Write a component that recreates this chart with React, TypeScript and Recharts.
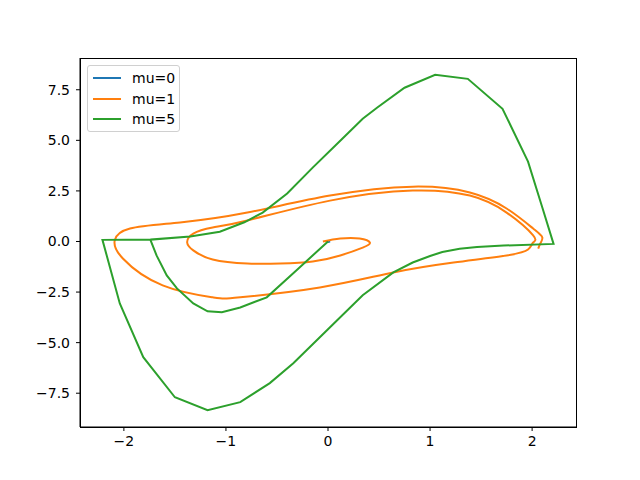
import { LineChart, Line, XAxis, YAxis } from "recharts";

// traces (x, dx/dt)
const mu0 = [
  { x: 0, y: 0.02 },
  { x: 0.02, y: 0 },
  { x: 0, y: -0.02 },
  { x: -0.02, y: 0 },
  { x: 0, y: 0.02 },
];

const mu1 = [
  { x: -0.05, y: 0 },
  { x: 0.12, y: 0.15 },
  { x: 0.31, y: 0.15 },
  { x: 0.41, y: -0.05 },
  { x: 0.34, y: -0.3 },
  { x: 0.12, y: -0.69 },
  { x: -0.15, y: -0.99 },
  { x: -0.47, y: -1.09 },
  { x: -0.79, y: -1.09 },
  { x: -1.13, y: -0.89 },
  { x: -1.32, y: -0.44 },
  { x: -1.38, y: -0.05 },
  { x: -1.32, y: 0.39 },
  { x: -1.13, y: 0.69 },
  { x: -0.79, y: 1.04 },
  { x: 0.02, y: 2.02 },
  { x: 0.83, y: 2.52 },
  { x: 1.39, y: 2.27 },
  { x: 1.75, y: 1.43 },
  { x: 2.01, y: 0.3 },
  { x: 2.01, y: -0.05 },
  { x: 1.96, y: -0.4 },
  { x: 1.75, y: -0.69 },
  { x: 1.23, y: -1.04 },
  { x: 0.64, y: -1.53 },
  { x: -0.08, y: -2.27 },
  { x: -0.86, y: -2.76 },
  { x: -1.13, y: -2.76 },
  { x: -1.62, y: -2.17 },
  { x: -2.01, y: -0.84 },
  { x: -2.09, y: 0.05 },
  { x: -1.94, y: 0.64 },
  { x: -1.45, y: 0.94 },
  { x: -0.79, y: 1.43 },
  { x: 0.02, y: 2.27 },
  { x: 0.83, y: 2.71 },
  { x: 1.39, y: 2.42 },
  { x: 1.75, y: 1.63 },
  { x: 2.01, y: 0.64 },
  { x: 2.1, y: 0.2 },
  { x: 2.08, y: -0.1 },
  { x: 2.06, y: -0.35 },
];

const mu5 = [
  { x: 0, y: 0 },
  { x: -0.3, y: -1.38 },
  { x: -0.6, y: -2.76 },
  { x: -0.86, y: -3.26 },
  { x: -1.04, y: -3.5 },
  { x: -1.18, y: -3.45 },
  { x: -1.32, y: -3.06 },
  { x: -1.48, y: -2.32 },
  { x: -1.58, y: -1.68 },
  { x: -1.68, y: -0.69 },
  { x: -1.74, y: 0.08 },
  { x: -1.35, y: 0.25 },
  { x: -1.06, y: 0.48 },
  { x: -0.82, y: 0.95 },
  { x: -0.64, y: 1.43 },
  { x: -0.4, y: 2.37 },
  { x: -0.15, y: 3.65 },
  { x: 0.12, y: 4.98 },
  { x: 0.34, y: 6.07 },
  { x: 0.48, y: 6.61 },
  { x: 0.75, y: 7.6 },
  { x: 1.05, y: 8.24 },
  { x: 1.37, y: 8.04 },
  { x: 1.71, y: 6.56 },
  { x: 1.96, y: 3.95 },
  { x: 2.1, y: 1.68 },
  { x: 2.21, y: -0.12 },
  { x: 1.72, y: -0.2 },
  { x: 1.46, y: -0.27 },
  { x: 1.29, y: -0.36 },
  { x: 1.12, y: -0.52 },
  { x: 1.0, y: -0.72 },
  { x: 0.83, y: -1.04 },
  { x: 0.64, y: -1.53 },
  { x: 0.34, y: -2.66 },
  { x: 0.02, y: -4.24 },
  { x: -0.34, y: -6.02 },
  { x: -0.57, y: -7.0 },
  { x: -0.86, y: -7.94 },
  { x: -1.18, y: -8.34 },
  { x: -1.5, y: -7.7 },
  { x: -1.81, y: -5.72 },
  { x: -2.04, y: -3.06 },
  { x: -2.21, y: 0.08 },
  { x: -1.74, y: 0.1 },
  { x: -1.35, y: 0.25 },
  { x: -1.06, y: 0.48 },
];

const xTicks = [-2, -1, 0, 1, 2];
const yTicks = [-7.5, -5, -2.5, 0, 2.5, 5, 7.5];

const series = [
  { name: "mu=0", data: mu0, color: "#1f77b4", curve: "linear" },
  { name: "mu=1", data: mu1, color: "#ff7f0e", curve: "natural" },
  { name: "mu=5", data: mu5, color: "#2ca02c", curve: "linear" },
];

const font = "DejaVu Sans, sans-serif";
const tickStyle = { fontSize: 14, fill: "#000", fontFamily: font };
const minus = (s: string) => s.replace("-", "\u2212");

function LegendBox() {
  return (
    <div
      style={{
        position: "absolute",
        left: 87,
        top: 65,
        width: 93,
        height: 67,
        border: "1px solid #d0d0d0",
        borderRadius: 3,
        background: "rgba(255,255,255,0.8)",
        fontFamily: font,
        fontSize: 14,
        boxSizing: "border-box",
      }}
    >
      {series.map((s, i) => (
        <div
          key={s.name}
          style={{ position: "absolute", left: 5, top: 3 + i * 20.5, display: "flex", alignItems: "center", height: 18 }}
        >
          <div style={{ width: 28, height: 2, background: s.color }} />
          <span style={{ marginLeft: 11 }}>{s.name}</span>
        </div>
      ))}
    </div>
  );
}

export default function App() {
  return (
    <div style={{ position: "absolute", left: 0, top: 0, width: 640, height: 480, background: "#fff" }}>
      <LineChart width={640} height={480} margin={{ top: 58, right: 64, bottom: 23, left: 20 }}>
        <XAxis
          type="number"
          dataKey="x"
          domain={[-2.43, 2.43]}
          ticks={xTicks}
          tick={tickStyle}
          tickFormatter={(v: number) => minus(String(v))}
          tickSize={4}
          tickMargin={5}
          height={30}
          stroke="#000"
          allowDuplicatedCategory={false}
        />
        <YAxis
          type="number"
          dataKey="y"
          domain={[-9.17, 9.07]}
          ticks={yTicks}
          tick={tickStyle}
          tickFormatter={(v: number) => minus(v.toFixed(1))}
          tickSize={4}
          tickMargin={6}
          width={60}
          stroke="#000"
        />
        {series.map((s) => (
          <Line
            key={s.name}
            data={s.data}
            dataKey="y"
            name={s.name}
            type={s.curve as any}
            stroke={s.color}
            strokeWidth={2}
            dot={false}
            activeDot={false}
            isAnimationActive={false}
          />
        ))}
      </LineChart>
      <div
        style={{
          position: "absolute",
          left: 80,
          top: 58,
          width: 497,
          height: 370,
          border: "1px solid #000",
          boxSizing: "border-box",
          pointerEvents: "none",
        }}
      />
      <LegendBox />
    </div>
  );
}
